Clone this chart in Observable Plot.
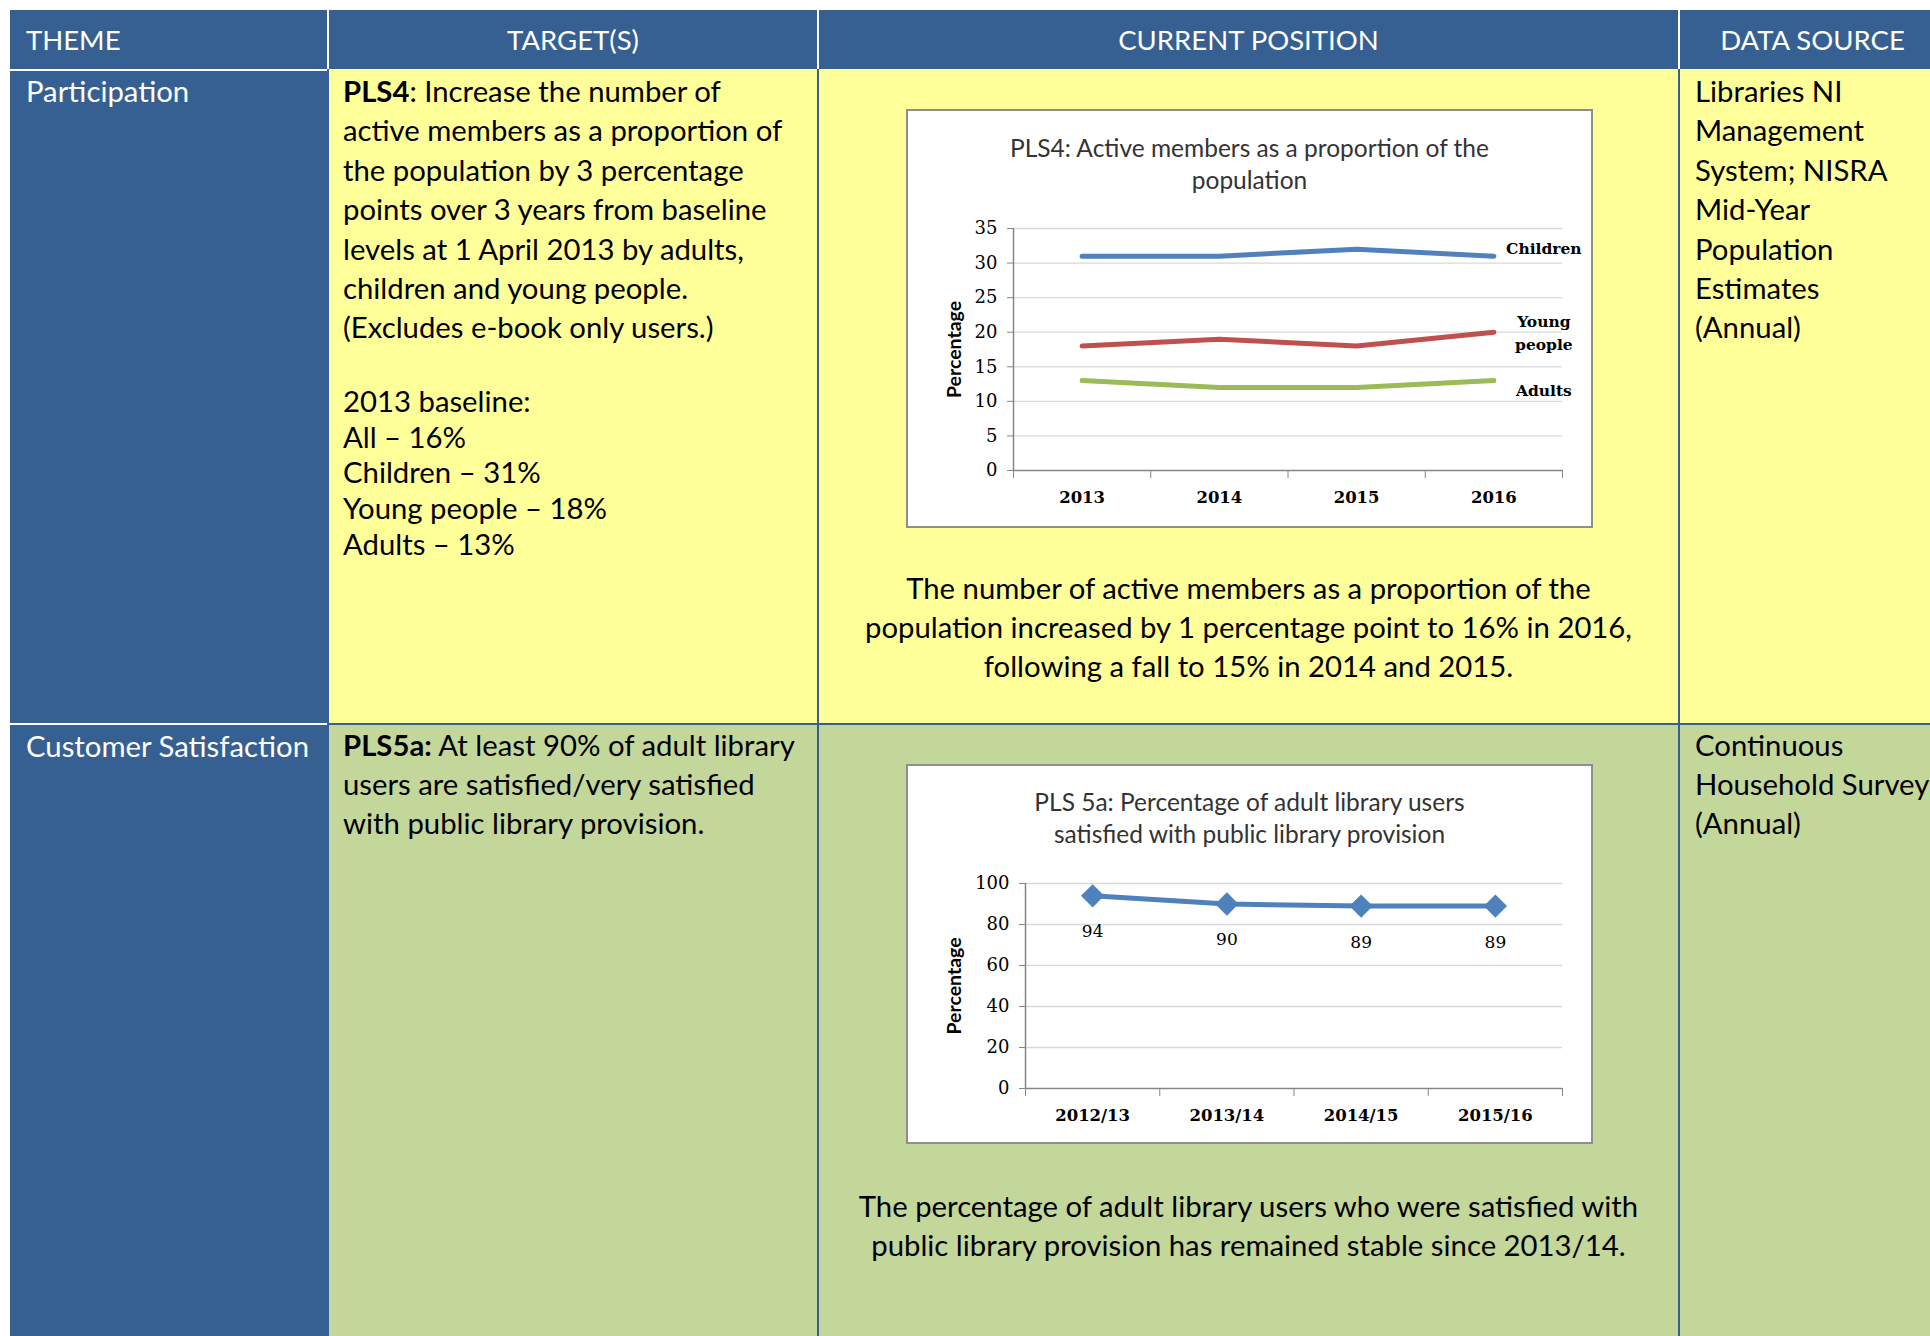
<!DOCTYPE html>
<html><head><meta charset="utf-8">
<script src="https://cdn.jsdelivr.net/npm/d3@7"></script>
<script src="https://cdn.jsdelivr.net/npm/@observablehq/plot@0.6"></script>
<style>
html,body{margin:0;padding:0;background:#fff;}
body{width:1930px;height:1336px;overflow:hidden;position:relative;font-family:Lato,"Noto Sans",sans-serif;color:#000;}
.a{position:absolute;box-sizing:border-box;}
.blue{background:#366092;}
.yel{background:#FFFF99;}
.grn{background:#C4D79B;}
.hdr{color:#fff;font-size:27.5px;line-height:59px;white-space:nowrap;}
.txt{font-size:29.3px;white-space:nowrap;}
.wt{color:#fff;}
.box{background:#fff;border:2px solid #8e8e8e;}
.ctitle{position:absolute;left:0;width:100%;text-align:center;font-size:24.5px;line-height:32px;color:#333;white-space:nowrap;}
</style>
</head><body>
<div class="a blue" style="left:327px;top:69px;width:1620px;height:1270px;"></div>

<div class="a blue hdr" style="left:10px;top:10px;width:317px;height:59px;padding-left:16px;">THEME</div>
<div class="a blue hdr" style="left:329px;top:10px;width:488px;height:59px;text-align:center;">TARGET(S)</div>
<div class="a blue hdr" style="left:819px;top:10px;width:859px;height:59px;text-align:center;">CURRENT POSITION</div>
<div class="a blue hdr" style="left:1680px;top:10px;width:265px;height:59px;text-align:center;">DATA SOURCE</div>

<div class="a blue" style="left:10px;top:71px;width:317px;height:652px;"></div>
<div class="a blue" style="left:10px;top:725px;width:317px;height:620px;"></div>

<div class="a yel" style="left:329px;top:69px;width:488px;height:654px;"></div>
<div class="a yel" style="left:819px;top:69px;width:859px;height:654px;"></div>
<div class="a yel" style="left:1680px;top:69px;width:265px;height:654px;"></div>
<div class="a grn" style="left:329px;top:725px;width:488px;height:620px;"></div>
<div class="a grn" style="left:819px;top:725px;width:859px;height:620px;"></div>
<div class="a grn" style="left:1680px;top:725px;width:265px;height:620px;"></div>

<div class="a txt wt" style="left:26px;top:71px;line-height:39.4px;">Participation</div>
<div class="a txt wt" style="left:26px;top:726px;line-height:39.4px;">Customer Satisfaction</div>

<div class="a txt" style="left:343px;top:71px;line-height:39.4px;"><b>PLS4</b>: Increase the number of<br>active members as a proportion of<br>the population by 3 percentage<br>points over 3 years from baseline<br>levels at 1 April 2013 by adults,<br>children and young people.<br>(Excludes e-book only users.)</div>
<div class="a txt" style="left:343px;top:383px;line-height:35.7px;">2013 baseline:<br>All – 16%<br>Children – 31%<br>Young people – 18%<br>Adults – 13%</div>
<div class="a txt" style="left:1695px;top:71px;line-height:39.4px;">Libraries NI<br>Management<br>System; NISRA<br>Mid-Year<br>Population<br>Estimates<br>(Annual)</div>

<div class="a txt" style="left:343px;top:726px;line-height:38.8px;"><b>PLS5a:</b> At least 90% of adult library<br>users are satisfied/very satisfied<br>with public library provision.</div>
<div class="a txt" style="left:1695px;top:726px;line-height:38.8px;">Continuous<br>Household Survey<br>(Annual)</div>

<div class="a txt" style="left:819px;top:569px;width:859px;text-align:center;line-height:38.8px;">The number of active members as a proportion of the<br>population increased by 1 percentage point to 16% in 2016,<br>following a fall to 15% in 2014 and 2015.</div>
<div class="a txt" style="left:819px;top:1187px;width:859px;text-align:center;line-height:38.5px;">The percentage of adult library users who were satisfied with<br>public library provision has remained stable since 2013/14.</div>

<div id="c1" class="a box" style="left:906px;top:109px;width:687px;height:419px;">
  <div class="ctitle" style="top:21px;">PLS4: Active members as a proportion of the<br>population</div>
</div>
<div id="c2" class="a box" style="left:906px;top:764px;width:687px;height:380px;">
  <div class="ctitle" style="top:20px;">PLS 5a: Percentage of adult library users<br>satisfied with public library provision</div>
</div>

<script>
// PLS4 data
const pls4Years = ["2013", "2014", "2015", "2016"];
const pls4Series = ["Children", "Young people", "Adults"];
const pls4Children = [31, 31, 32, 31];
const pls4Young = [18, 19, 18, 20];
const pls4Adults = [13, 12, 12, 13];
const pls4Colors = ["#4F81BD", "#C0504D", "#9BBB59"];
const pls4LabelText = ["Children", "Young\npeople", "Adults"];
const pls4YTicks = [0, 5, 10, 15, 20, 25, 30, 35];

// PLS5a data
const pls5Years = ["2012/13", "2013/14", "2014/15", "2015/16"];
const pls5Values = [94, 90, 89, 89];
const pls5YTicks = [0, 20, 40, 60, 80, 100];

const serif = "'DejaVu Serif', 'Liberation Serif', serif";
const axisColor = "#868686";
const gridColor = "#d9d9d9";

function commonMarks(years, yTicks, labelDx) {
  const bounds = d3.range(years.length + 1);
  const centers = years.map((_, i) => i + 0.5);
  return [
    Plot.gridY(yTicks.filter(t => t > 0), {stroke: gridColor, strokeOpacity: 1, strokeWidth: 1.3}),
    Plot.axisY(yTicks, {tickSize: 6, tickPadding: 10, stroke: axisColor, fill: "#000", fontSize: 18, fontFamily: serif, label: null}),
    Plot.axisX(bounds, {tickSize: 8, tickFormat: () => "", stroke: axisColor, label: null}),
    Plot.axisX(centers, {tickSize: 0, tickPadding: 21, tickFormat: d => years[Math.round(d - 0.5)], fill: "#000", fontSize: 16.5, fontWeight: "bold", fontFamily: serif, label: null}),
    Plot.ruleX([0], {stroke: axisColor, strokeWidth: 1.5}),
    Plot.ruleY([0], {stroke: axisColor, strokeWidth: 1.5}),
    Plot.text(["Percentage"], {text: d => d, frameAnchor: "left", textAnchor: "middle", rotate: -90, dx: labelDx, fontFamily: "Lato, sans-serif", fontWeight: "bold", fontSize: 19.5, fill: "#000"})
  ];
}

// Chart 1
const allSeries = [pls4Children, pls4Young, pls4Adults];
const rows1 = [];
allSeries.forEach((vals, k) => vals.forEach((v, i) => rows1.push({series: pls4Series[k], pos: i + 0.5, value: v})));
const lastPos = pls4Years.length - 0.5;
const labelOffsets = [-10, -1, 8];
const labelMarks = pls4Series.map((s, k) => Plot.text([{series: s, pos: lastPos, value: allSeries[k][allSeries[k].length - 1], label: pls4LabelText[k]}], {
  x: "pos", y: "value", text: "label", dx: 50, dy: labelOffsets[k], lineHeight: 1.5,
  fontFamily: serif, fontWeight: "bold", fontSize: 15.5, fill: "#000"
}));

const chart1 = Plot.plot({
  width: 683, height: 415,
  marginLeft: 105, marginRight: 29, marginTop: 117, marginBottom: 56,
  style: {background: "transparent", fontFamily: serif, fontSize: "16px", color: "#000", overflow: "visible"},
  x: {domain: [0, pls4Years.length], label: null},
  y: {domain: [0, 35], label: null},
  color: {domain: pls4Series, range: pls4Colors},
  marks: [
    ...commonMarks(pls4Years, pls4YTicks, -59),
    Plot.line(rows1, {x: "pos", y: "value", z: "series", stroke: "series", strokeWidth: 5}),
    ...labelMarks
  ]
});
chart1.style.position = "absolute";
chart1.style.left = "0px";
chart1.style.top = "0px";
document.getElementById("c1").appendChild(chart1);

// Chart 2
const rows2 = pls5Values.map((v, i) => ({period: pls5Years[i], pos: i + 0.5, value: v}));
const chart2 = Plot.plot({
  width: 683, height: 376,
  marginLeft: 117, marginRight: 29, marginTop: 117, marginBottom: 54,
  style: {background: "transparent", fontFamily: serif, fontSize: "16px", color: "#000", overflow: "visible"},
  x: {domain: [0, pls5Years.length], label: null},
  y: {domain: [0, 100], label: null},
  marks: [
    ...commonMarks(pls5Years, pls5YTicks, -71),
    Plot.line(rows2, {x: "pos", y: "value", stroke: "#4F81BD", strokeWidth: 5}),
    Plot.dot(rows2, {x: "pos", y: "value", symbol: "diamond2", r: 10.5, fill: "#4F81BD", stroke: "none"}),
    Plot.text(rows2, {x: "pos", y: "value", text: d => String(d.value), dy: 36, fontFamily: serif, fontSize: 17, fill: "#000"})
  ]
});
chart2.style.position = "absolute";
chart2.style.left = "0px";
chart2.style.top = "0px";
document.getElementById("c2").appendChild(chart2);
</script>
</body></html>
